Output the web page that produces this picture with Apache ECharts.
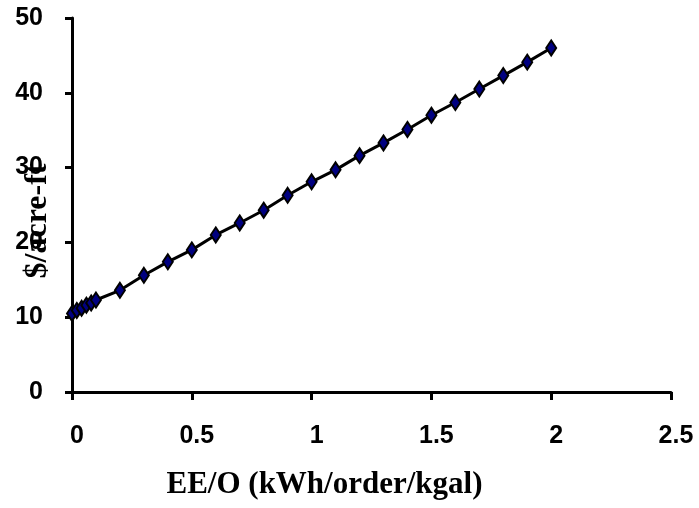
<!DOCTYPE html>
<html><head><meta charset="utf-8">
<script src="https://cdn.jsdelivr.net/npm/echarts@6/dist/echarts.min.js"></script>
<style>html,body{margin:0;padding:0;background:#fff}#c{width:699px;height:508px}</style>
</head><body><div id="c"></div>
<script>
var xValues = [0, 0.02, 0.04, 0.06, 0.08, 0.1, 0.2, 0.3, 0.4, 0.5, 0.6, 0.7, 0.8, 0.9, 1.0, 1.1, 1.2, 1.3, 1.4, 1.5, 1.6, 1.7, 1.8, 1.9, 2.0];
var costValues = [10.5, 10.9, 11.2, 11.6, 11.9, 12.3, 13.6, 15.6, 17.4, 19.0, 21.0, 22.6, 24.3, 26.3, 28.1, 29.7, 31.6, 33.3, 35.1, 37.0, 38.7, 40.5, 42.3, 44.1, 46.0];
var xName = 'EE/O (kWh/order/kgal)';
var yName = '$/acre-ft';

var chart = echarts.init(document.getElementById('c'));
var pts = xValues.map(function(x, i){ return [x, costValues[i]]; });
chart.setOption({
  animation: false,
  grid: {left: 72, right: 28, top: 18, bottom: 116, containLabel: false, outerBoundsMode: 'none'},
  xAxis: {
    type: 'value', min: 0, max: 2.5, interval: 0.5,
    name: xName, nameLocation: 'middle', nameGap: 77, nameMoveOverlap: false,
    nameTextStyle: {fontFamily: 'Liberation Serif', fontWeight: 'bold', fontSize: 31, color: '#000', padding: [0, 94, 0, 0]},
    axisLine: {lineStyle: {color: '#000', width: 3}},
    axisTick: {show: true, inside: false, length: 8, lineStyle: {color: '#000', width: 3}},
    axisLabel: {fontFamily: 'Liberation Sans', fontWeight: 'bold', fontSize: 25, color: '#000', margin: 32, padding: [0, 0, 0, 10]},
    splitLine: {show: false}
  },
  yAxis: {
    type: 'value', min: 0, max: 50, interval: 10,
    name: yName, nameLocation: 'middle', nameGap: 18, nameRotate: 90, nameMoveOverlap: false,
    nameTextStyle: {fontFamily: 'Liberation Serif', fontWeight: 'bold', fontSize: 32, color: '#000', padding: [0, 32, 0, 0]},
    axisLine: {show: true, lineStyle: {color: '#000', width: 3}},
    axisTick: {show: true, inside: false, length: 7, lineStyle: {color: '#000', width: 3}},
    axisLabel: {fontFamily: 'Liberation Sans', fontWeight: 'bold', fontSize: 25, color: '#000', margin: 29},
    splitLine: {show: false}
  },
  series: [{
    type: 'line', data: pts,
    symbol: 'diamond', symbolSize: [10, 15],
    lineStyle: {color: '#000', width: 3},
    itemStyle: {color: '#000080', borderColor: '#000', borderWidth: 2}
  }]
});
</script></body></html>
